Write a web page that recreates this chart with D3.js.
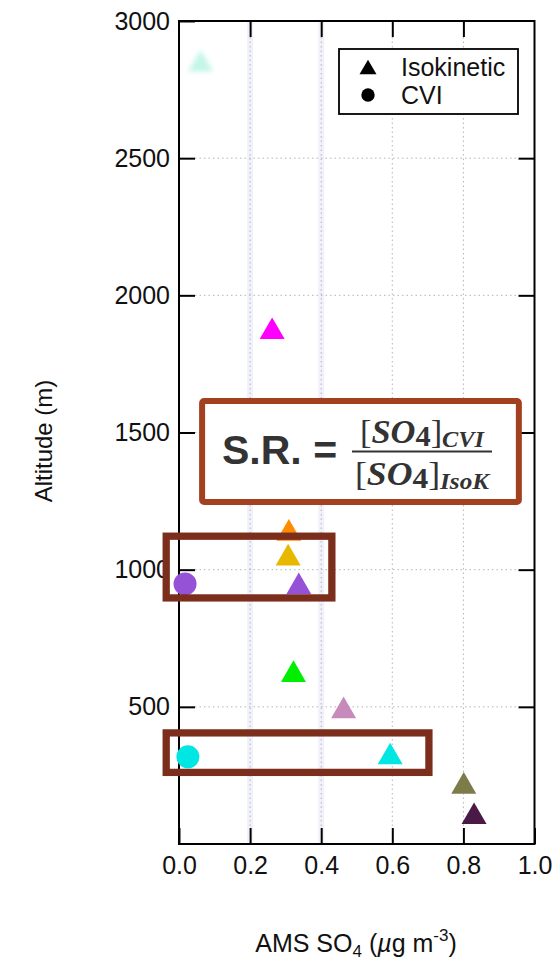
<!DOCTYPE html>
<html>
<head>
<meta charset="utf-8">
<script src="https://cdn.jsdelivr.net/npm/d3@7"></script>
<style>
  html, body { margin: 0; padding: 0; background: #ffffff; }
  svg { display: block; font-family: "Liberation Sans", Arial, Helvetica, sans-serif; }
</style>
</head>
<body>
<svg id="chart" width="560" height="960"></svg>
<script>
// Isokinetic inlet samples: AMS sulfate (µg m-3) vs altitude (m)
const isoSO4 = [0.061, 0.262, 0.309, 0.307, 0.337, 0.322, 0.463, 0.594, 0.801, 0.830];
const isoAlt = [2855, 1880, 1145, 1055, 950, 630, 498, 330, 223, 112];
// Counterflow virtual impactor (CVI) samples
const cviSO4 = [0.017, 0.025];
const cviAlt = [948, 318];

// flight-leg colours (isokinetic, then CVI)
const isoColors = ["#a8f2dc", "#ff00ff", "#ff8c00", "#e8b800", "#9552d6", "#00ee00", "#c78bbb", "#00e6e2", "#7c7c4a", "#4a1a46"];
const cviColors = ["#9552d6", "#00e6e2"];

const xTicks = [0, 0.2, 0.4, 0.6, 0.8, 1.0];
const yTicks = [500, 1000, 1500, 2000, 2500, 3000];

// highlighted sample pairs and the scavenging-ratio note, in data units
const pairBoxes = [
  { x0: -0.036, x1: 0.430, y0: 897, y1: 1122 },
  { x0: -0.036, x1: 0.703, y0: 261, y1: 405 }
];
const noteBox = { x0: 0.065, x1: 0.956, y0: 1247, y1: 1615 };

const svg = d3.select("#chart");
svg.append("rect").attr("width", 560).attr("height", 960).attr("fill", "#ffffff");

const x = d3.scaleLinear().domain([0, 1]).range([179, 534.5]);
const y = d3.scaleLinear().domain([0, 3000]).range([844, 21]);
const [L, R] = x.range();
const [B, T] = y.range();
const tickLen = 16;

// faint lavender streaks along two columns
svg.append("g").selectAll("rect").data([0.2, 0.4]).join("rect")
  .attr("x", d => x(d) - 3).attr("y", T).attr("width", 6).attr("height", B - T)
  .attr("fill", "#e6e6f8").attr("opacity", 0.55);

// dotted grid, running between the inward tick marks
const grid = svg.append("g").attr("stroke", "#b4b4bc").attr("stroke-width", 1)
  .attr("stroke-dasharray", "1.5,3").attr("fill", "none");
grid.selectAll("line.v").data(xTicks.slice(1, -1)).join("line").attr("class", "v")
  .attr("x1", d => x(d)).attr("x2", d => x(d)).attr("y1", T + tickLen).attr("y2", B - tickLen);
grid.selectAll("line.h").data(yTicks.slice(0, -1)).join("line").attr("class", "h")
  .attr("x1", L + tickLen).attr("x2", R - tickLen).attr("y1", d => y(d)).attr("y2", d => y(d));

// axes with inward ticks on all four sides
const fmtX = d3.format(".1f");
function styleAxis(g) {
  g.attr("font-family", null).attr("font-size", null);
  g.select(".domain").remove();
  g.selectAll(".tick line").attr("stroke", "#000").attr("stroke-width", 2);
  g.selectAll(".tick text").attr("fill", "#111").style("font-size", "25px")
    .style("font-family", "'Liberation Sans', Arial, sans-serif");
}
svg.append("g").attr("transform", `translate(0,${B})`)
  .call(d3.axisBottom(x).tickValues(xTicks).tickSize(-tickLen).tickPadding(12).tickFormat(fmtX))
  .call(styleAxis);
svg.append("g").attr("transform", `translate(0,${T})`)
  .call(d3.axisTop(x).tickValues(xTicks.slice(1, -1)).tickSize(-tickLen).tickFormat(""))
  .call(styleAxis);
svg.append("g").attr("transform", `translate(${L},0)`)
  .call(d3.axisLeft(y).tickValues(yTicks).tickSize(-tickLen).tickPadding(9).tickFormat(d3.format("d")))
  .call(styleAxis);
svg.append("g").attr("transform", `translate(${R},0)`)
  .call(d3.axisRight(y).tickValues(yTicks.slice(0, -1)).tickSize(-tickLen).tickFormat(""))
  .call(styleAxis);

// plot frame
svg.append("rect").attr("x", L).attr("y", T).attr("width", R - L).attr("height", B - T)
  .attr("fill", "none").attr("stroke", "#000").attr("stroke-width", 2);

// markers
const triPath = (s) => {
  const h = s * Math.sqrt(3) / 2;
  return `M0,${-h / 2}L${s / 2},${h / 2}L${-s / 2},${h / 2}Z`;
};
const defs = svg.append("defs");
defs.append("filter").attr("id", "soft").attr("x", "-50%").attr("y", "-50%")
  .attr("width", "200%").attr("height", "200%")
  .append("feGaussianBlur").attr("stdDeviation", 2.5);

const isoData = isoSO4.map((v, i) => ({ v, alt: isoAlt[i], c: isoColors[i], i }));
svg.append("g").selectAll("path").data(isoData).join("path")
  .attr("d", triPath(25))
  .attr("transform", d => `translate(${x(d.v)},${y(d.alt)})`)
  .attr("fill", d => d.c)
  .attr("opacity", d => d.i === 0 ? 0.7 : 1)
  .attr("filter", d => d.i === 0 ? "url(#soft)" : null);

const cviData = cviSO4.map((v, i) => ({ v, alt: cviAlt[i], c: cviColors[i] }));
svg.append("g").selectAll("circle").data(cviData).join("circle")
  .attr("cx", d => x(d.v)).attr("cy", d => y(d.alt)).attr("r", 11.5)
  .attr("fill", d => d.c);

// legend
const lg = svg.append("g");
lg.append("rect").attr("x", 339).attr("y", 49).attr("width", 179).attr("height", 65)
  .attr("fill", "#ffffff").attr("stroke", "#000").attr("stroke-width", 1.8);
lg.append("path").attr("d", triPath(17)).attr("transform", "translate(368,67)").attr("fill", "#000");
lg.append("circle").attr("cx", 368).attr("cy", 95).attr("r", 6.7).attr("fill", "#000");
lg.append("text").attr("x", 401).attr("y", 76).attr("font-size", 25).attr("fill", "#111").text("Isokinetic");
lg.append("text").attr("x", 401).attr("y", 104).attr("font-size", 25).attr("fill", "#111").text("CVI");

// axis titles
svg.append("text").attr("transform", "translate(52,441) rotate(-90)")
  .attr("text-anchor", "middle").attr("font-size", 24).attr("fill", "#111")
  .text("Altitude (m)");
const xt = svg.append("text").attr("x", 356).attr("y", 952)
  .attr("text-anchor", "middle").attr("font-size", 25).attr("fill", "#111");
xt.append("tspan").text("AMS SO");
xt.append("tspan").attr("font-size", 17).attr("dy", 5).text("4");
xt.append("tspan").attr("dy", -5).text(" (");
xt.append("tspan").attr("font-style", "italic").text("\u00b5");
xt.append("tspan").text("g m");
xt.append("tspan").attr("font-size", 17).attr("dy", -11).text("-3");
xt.append("tspan").attr("dy", 11).text(")");

// highlighted pairs
svg.append("g").selectAll("rect").data(pairBoxes).join("rect")
  .attr("x", d => x(d.x0)).attr("y", d => y(d.y1))
  .attr("width", d => x(d.x1) - x(d.x0)).attr("height", d => y(d.y0) - y(d.y1))
  .attr("fill", "none").attr("stroke", "#7b2e1c").attr("stroke-width", 7.3);

// scavenging ratio note
const nb = svg.append("g");
nb.append("rect")
  .attr("x", x(noteBox.x0)).attr("y", y(noteBox.y1))
  .attr("width", x(noteBox.x1) - x(noteBox.x0)).attr("height", y(noteBox.y0) - y(noteBox.y1))
  .attr("rx", 2).attr("fill", "#ffffff").attr("stroke", "#a3401f").attr("stroke-width", 6);
nb.append("text").attr("x", 222).attr("y", 464).attr("font-size", 41).attr("font-weight", "bold")
  .attr("fill", "#333").text("S.R. =");
nb.append("line").attr("x1", 352).attr("x2", 492).attr("y1", 451.5).attr("y2", 451.5)
  .attr("stroke", "#333").attr("stroke-width", 2);

function ratioTerm(yBase, sub, len) {
  const t = nb.append("text").attr("x", 422).attr("y", yBase).attr("text-anchor", "middle")
    .style("font-family", "'Liberation Serif', 'DejaVu Serif', serif")
    .attr("font-size", 34).attr("font-weight", "bold").attr("fill", "#333")
    .attr("textLength", len).attr("lengthAdjust", "spacingAndGlyphs");
  t.append("tspan").attr("font-weight", "normal").text("[");
  t.append("tspan").attr("font-style", "italic").text("SO");
  t.append("tspan").attr("font-size", 30).attr("dy", 3).text("4");
  t.append("tspan").attr("font-weight", "normal").attr("dy", -3).text("]");
  t.append("tspan").attr("font-style", "italic").attr("font-size", 24).attr("dy", 4).text(sub);
}
ratioTerm(443, "CVI", 124);
ratioTerm(485, "IsoK", 134);
</script>
</body>
</html>
